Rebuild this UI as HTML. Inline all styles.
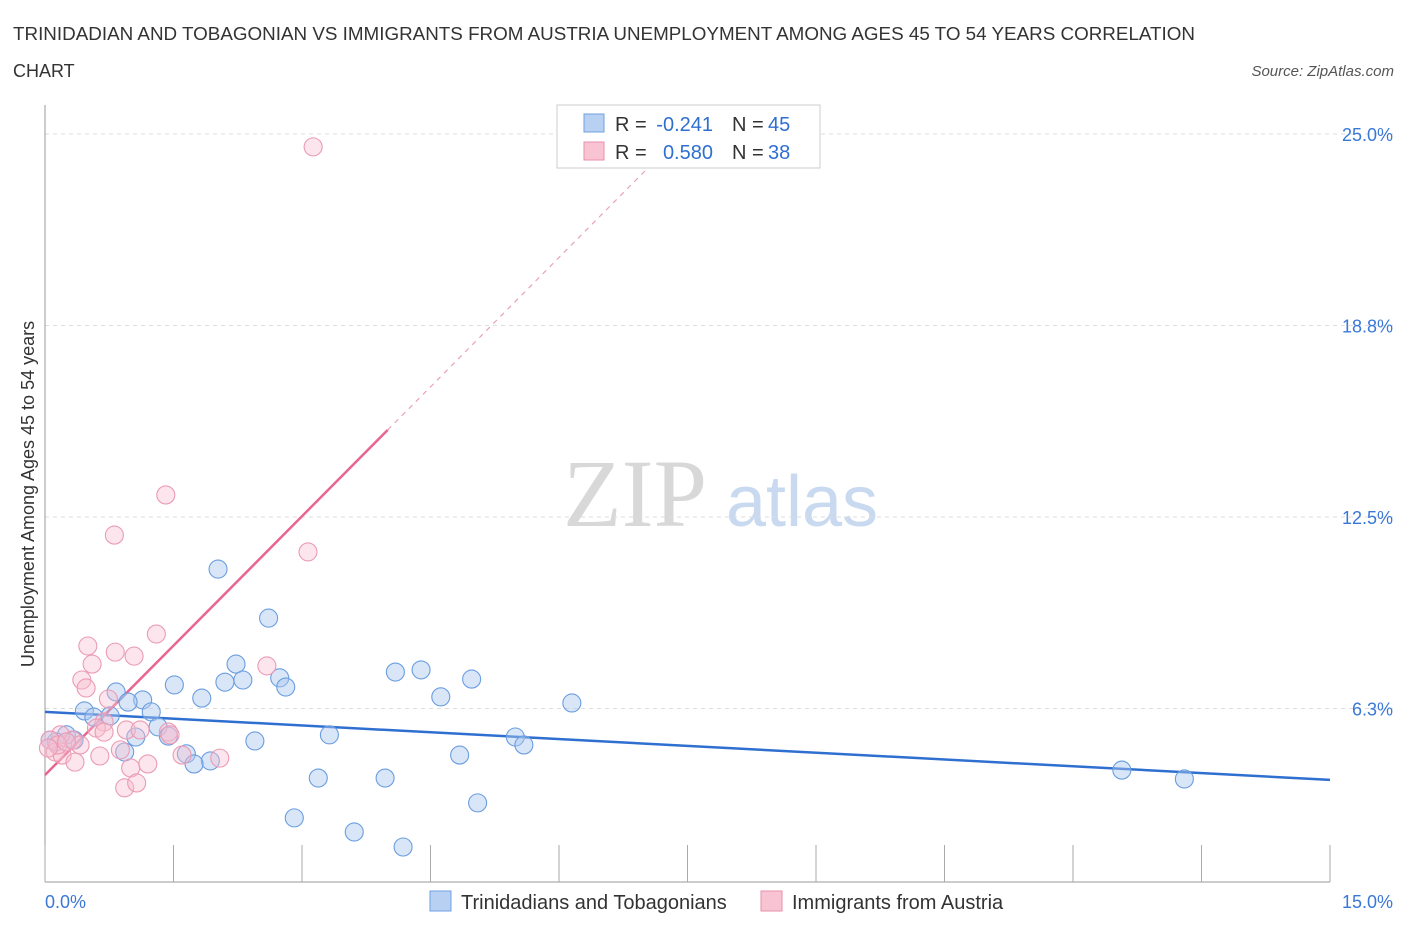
<!DOCTYPE html>
<html><head><meta charset="utf-8"><style>
body{margin:0;background:#fff;font-family:"Liberation Sans",sans-serif;}
</style></head><body>
<svg id="chart" width="1406" height="930" xmlns="http://www.w3.org/2000/svg" font-family="Liberation Sans, sans-serif">
<text x="13" y="40" font-size="18" fill="#333" textLength="1182" lengthAdjust="spacingAndGlyphs">TRINIDADIAN AND TOBAGONIAN VS IMMIGRANTS FROM AUSTRIA UNEMPLOYMENT AMONG AGES 45 TO 54 YEARS CORRELATION</text>
<text x="13" y="77" font-size="18" fill="#333">CHART</text>
<text x="1394" y="76" font-size="15" fill="#555" font-style="italic" text-anchor="end">Source: ZipAtlas.com</text>
<text x="635" y="526" font-size="96" fill="#d8d8d8" font-family="Liberation Serif, serif" text-anchor="middle">ZIP</text>
<text x="802" y="526" font-size="72" fill="#c9d9ef" text-anchor="middle">atlas</text>
<g id="grid"></g>
<g id="axes"></g>
<g id="lines"></g>
<g id="points"></g>
<text transform="translate(34,494) rotate(-90)" font-size="18" fill="#333" text-anchor="middle">Unemployment Among Ages 45 to 54 years</text>
<g>
<rect x="557" y="105" width="263" height="63" fill="#fff" stroke="#ccc"/>
<rect x="584" y="114" width="20" height="18" fill="#b8d1f3" stroke="#6f9fe0"/>
<rect x="584" y="142" width="20" height="18" fill="#f8c4d4" stroke="#ea8fab"/>
<text x="615" y="131" font-size="20" fill="#333">R =</text>
<text x="713" y="131" font-size="20" fill="#2f6fd0" text-anchor="end">-0.241</text>
<text x="732" y="131" font-size="20" fill="#333">N =</text>
<text x="768" y="131" font-size="20" fill="#2f6fd0">45</text>
<text x="615" y="159" font-size="20" fill="#333">R =</text>
<text x="713" y="159" font-size="20" fill="#2f6fd0" text-anchor="end">0.580</text>
<text x="732" y="159" font-size="20" fill="#333">N =</text>
<text x="768" y="159" font-size="20" fill="#2f6fd0">38</text>
</g>
<g>
<rect x="430" y="891" width="21" height="20" fill="#b8d1f3" stroke="#6f9fe0"/>
<text x="461" y="909" font-size="20" fill="#333">Trinidadians and Tobagonians</text>
<rect x="761" y="891" width="21" height="20" fill="#f8c4d4" stroke="#ea8fab"/>
<text x="792" y="909" font-size="20" fill="#333">Immigrants from Austria</text>
</g>
</svg>
<script>
const yTicks=[6.25,12.5,18.75,25];
const yTickLabels=["6.3%","12.5%","18.8%","25.0%"];
const xTickLabels=["0.0%","15.0%"];
const blueX=[2.02,2.61,2.23,4.09,4.39,4.98,1.51,2.10,2.31,2.74,2.81,0.83,1.14,1.83,4.62,6.15,0.46,0.97,1.24,0.57,0.76,1.32,1.06,1.44,2.45,3.32,5.49,5.59,0.25,0.34,0.13,0.93,1.65,1.93,1.74,4.84,3.19,3.97,12.57,13.30,5.05,2.91,3.61,4.18,0.06];
const blueY=[10.80,9.20,7.70,7.44,7.51,7.21,7.02,7.11,7.18,7.25,6.95,6.79,6.53,6.59,6.63,6.43,6.17,6.46,6.14,5.97,6.01,5.65,5.32,5.35,5.19,5.39,5.32,5.06,5.39,5.22,5.16,4.83,4.77,4.54,4.44,4.73,3.98,3.98,4.24,3.95,3.17,2.68,2.22,1.73,5.22];
const pinkX=[3.13,1.41,0.81,3.07,1.30,0.50,0.82,1.04,0.55,2.59,0.43,0.48,0.74,1.44,1.46,0.95,1.11,0.69,0.60,0.69,0.32,0.41,0.18,0.06,0.12,0.20,0.64,0.35,0.88,1.20,1.00,0.93,1.07,1.60,2.04,0.15,0.04,0.25];
const pinkY=[24.58,13.22,11.91,11.36,8.68,8.29,8.09,7.96,7.70,7.64,7.18,6.92,6.56,5.48,5.39,5.55,5.55,5.81,5.61,5.48,5.22,5.06,5.39,5.22,4.83,4.73,4.70,4.50,4.90,4.44,4.31,3.66,3.82,4.73,4.63,5.06,4.96,5.16];
const blueTrend=[6.14,3.92];
const pinkTrend=[4.08,2.815];
const NS="http://www.w3.org/2000/svg";
const sx=v=>45+v*1285/15;
const sy=v=>900-v*30.64;
function mk(tag,attrs,parent){const e=document.createElementNS(NS,tag);for(const k in attrs)e.setAttribute(k,attrs[k]);document.getElementById(parent).appendChild(e);return e;}
yTicks.forEach((t,i)=>{
 const g=mk('line',{x1:45,x2:1395,y1:sy(t),y2:sy(t),stroke:'#ddd','stroke-dasharray':'4,4'},'grid');
 
 
 const l=mk('text',{x:1393,y:sy(t)+7,'font-size':18,fill:'#3a78d8','text-anchor':'end'},'grid');
 l.textContent=yTickLabels[i];
 
 
});
const ya=mk('line',{x1:45,x2:45,y1:105,y2:882,stroke:'#999'},'axes');


const xa=mk('line',{x1:45,x2:1330,y1:882,y2:882,stroke:'#999'},'axes');


for(let i=0;i<=10;i++){
 const t=mk('line',{x1:sx(i*1.5),x2:sx(i*1.5),y1:845,y2:882,stroke:'#aaa'},'axes');
 
 
}
[[0,'start',45],[15,'end',1393]].forEach((d,i)=>{
 const l=mk('text',{x:d[2],y:908,'font-size':18,fill:'#3a78d8','text-anchor':d[1]},'axes');
 l.textContent=xTickLabels[i];
 
 
});
blueX.forEach((x,i)=>{
 const c=mk('circle',{cx:sx(x),cy:sy(blueY[i]),r:9,fill:'rgba(170,200,240,0.45)',stroke:'#6a9de0','stroke-width':1.1},'points');
 
 
});
pinkX.forEach((x,i)=>{
 const c=mk('circle',{cx:sx(x),cy:sy(pinkY[i]),r:9,fill:'rgba(248,190,208,0.4)',stroke:'#eb9bb4','stroke-width':1.1},'points');
 
 
});
const bl=mk('line',{x1:sx(0),y1:sy(blueTrend[0]),x2:sx(15),y2:sy(blueTrend[1]),stroke:'#2f6fd0','stroke-width':2.5},'lines');


const pl=mk('line',{x1:sx(0),y1:sy(pinkTrend[0]),x2:sx(4),y2:sy(pinkTrend[0]+4*pinkTrend[1]),stroke:'#e8668f','stroke-width':2.5},'lines');


const pd=mk('line',{x1:sx(4),y1:sy(pinkTrend[0]+4*pinkTrend[1]),x2:sx(7.1),y2:sy(pinkTrend[0]+7.1*pinkTrend[1]),stroke:'#eaa0b8','stroke-width':1.2,'stroke-dasharray':'5,5'},'lines');


</script>
</body></html>
